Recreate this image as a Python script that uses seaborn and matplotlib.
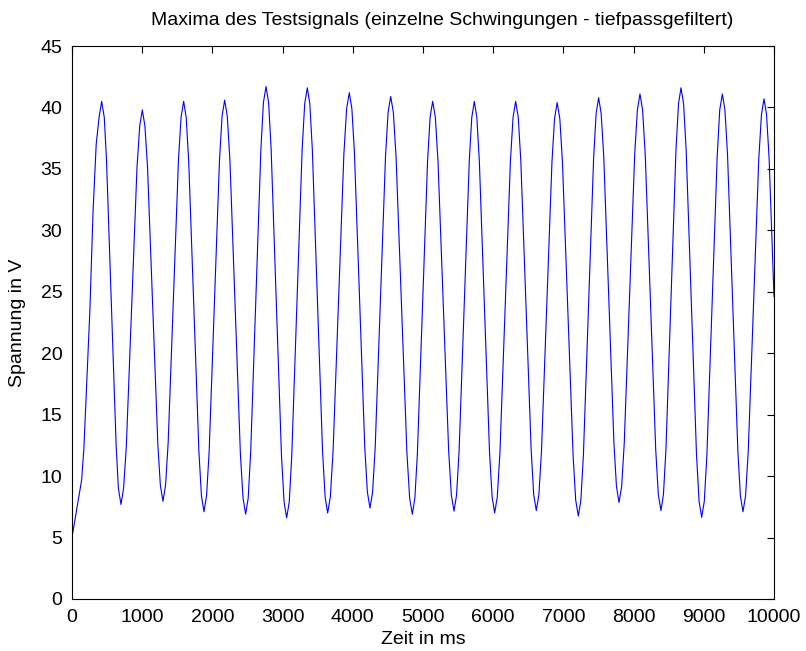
import matplotlib
matplotlib.use('Agg')
import matplotlib.pyplot as plt
import seaborn as sns
from pandas import DataFrame

sns.set_style('white')
plt.rcParams['font.family'] = ['Liberation Sans', 'DejaVu Sans']
plt.rcParams['text.color'] = 'black'
plt.rcParams['axes.labelcolor'] = 'black'

# values (ms / V), one extremum or edge per line
zeit_ms = [
    0, 138, 170, 210, 255, 300, 345,
    386, 423, 460,  492, 560, 629,
    661, 698, 735,  774, 850, 926,
    965, 1002, 1039,  1076, 1149, 1223,
    1259, 1296, 1333,  1370, 1444, 1517,
    1554, 1591, 1627,  1663, 1736, 1808,
    1844, 1880, 1917,  1954, 2028, 2101,
    2138, 2175, 2212,  2250, 2325, 2399,
    2437, 2474, 2510,  2546, 2619, 2691,
    2727, 2764, 2801,  2837, 2911, 2984,
    3021, 3058, 3095,  3131, 3205, 3278,
    3315, 3352, 3388,  3424, 3497, 3569,
    3606, 3642, 3680,  3719, 3796, 3873,
    3912, 3950, 3987,  4024, 4097, 4171,
    4208, 4245, 4282,  4319, 4392, 4466,
    4503, 4540, 4578,  4617, 4694, 4771,
    4810, 4848, 4884,  4920, 4993, 5065,
    5101, 5138, 5176,  5214, 5290, 5366,
    5404, 5442, 5478,  5514, 5587, 5659,
    5695, 5731, 5767,  5803, 5876, 5948,
    5985, 6021, 6058,  6096, 6171, 6245,
    6283, 6320, 6357,  6394, 6467, 6541,
    6577, 6614, 6651,  6688, 6763, 6837,
    6874, 6911, 6949,  6987, 7062, 7138,
    7175, 7213, 7249,  7285, 7358, 7430,
    7466, 7502, 7538,  7575, 7647, 7720,
    7756, 7792, 7830,  7867, 7942, 8016,
    8054, 8091, 8128,  8166, 8241, 8315,
    8352, 8390, 8425,  8461, 8533, 8604,
    8640, 8675, 8712,  8749, 8823, 8896,
    8933, 8970, 9007,  9044, 9117, 9191,
    9227, 9264, 9301,  9338, 9411, 9485,
    9521, 9558, 9595,  9633, 9708, 9783,
    9821, 9858, 9894,  9930, 10000,
]
spannung_v = [
    5.0, 9.7, 12.3, 17.5, 23.5, 31.5, 37.0,
    39.2, 40.5, 39.2,  35.7, 24.1, 12.5,
    9.0, 7.7, 9.0,  12.4, 23.75, 35.1,
    38.5, 39.8, 38.5,  35.15, 23.9, 12.6,
    9.25, 7.95, 9.25,  12.7, 24.2, 35.75,
    39.2, 40.5, 39.2,  35.6, 23.8, 12.0,
    8.4, 7.1, 8.4,  12.0, 23.85, 35.7,
    39.3, 40.6, 39.3,  35.7, 23.75, 11.8,
    8.2, 6.9, 8.2,  12.0, 24.3, 36.6,
    40.4, 41.7, 40.4,  36.6, 24.15, 11.7,
    7.9, 6.6, 7.9,  11.7, 24.1, 36.5,
    40.3, 41.6, 40.3,  36.55, 24.3, 12.05,
    8.3, 7.0, 8.3,  12.0, 24.1, 36.2,
    39.9, 41.2, 39.9,  36.25, 24.3, 12.3,
    8.7, 7.4, 8.7,  12.3, 24.15, 36.0,
    39.6, 40.9, 39.6,  35.9, 23.9, 11.9,
    8.2, 6.9, 8.2,  11.8, 23.7, 35.6,
    39.2, 40.5, 39.2,  35.6, 23.8, 12.0,
    8.45, 7.15, 8.45,  12.0, 23.8, 35.6,
    39.2, 40.5, 39.2,  35.6, 23.75, 11.9,
    8.3, 7.0, 8.3,  11.9, 23.75, 35.6,
    39.2, 40.5, 39.2,  35.6, 23.85, 12.1,
    8.5, 7.2, 8.5,  12.05, 23.8, 35.55,
    39.1, 40.4, 39.1,  35.5, 23.6, 11.7,
    8.05, 6.75, 8.05,  11.7, 23.8, 35.8,
    39.5, 40.8, 39.5,  36.0, 24.3, 12.65,
    9.15, 7.85, 9.15,  12.7, 24.5, 36.25,
    39.8, 41.1, 39.8,  36.15, 24.15, 12.15,
    8.5, 7.2, 8.5,  12.2, 24.4, 36.6,
    40.3, 41.6, 40.3,  36.5, 24.1, 11.75,
    7.95, 6.65, 7.95,  11.7, 23.9, 36.05,
    39.8, 41.1, 39.8,  36.15, 24.1, 12.05,
    8.4, 7.1, 8.4,  12.0, 23.9, 35.8,
    39.4, 40.7, 39.4,  35.9, 24.6,
]

x_ticks = list(range(0, 10001, 1000))
y_ticks = list(range(0, 46, 5))

df = DataFrame({'zeit': zeit_ms, 'spannung': spannung_v})

fig = plt.figure(figsize=(8.06, 6.51), dpi=100)
ax = fig.add_axes([0.0893, 0.0799, 0.8710, 0.8494])
sns.lineplot(data=df, x='zeit', y='spannung', ax=ax, color='#0000ff',
             linewidth=0.8, estimator=None, sort=False)

ax.set_xlim(0, 10000)
ax.set_ylim(0, 45)
ax.set_xticks(x_ticks)
ax.set_yticks(y_ticks)
ax.tick_params(direction='in', top=True, right=True, length=5, width=0.8,
               labelsize=14, colors='black', pad=7)
for s in ax.spines.values():
    s.set_color('black')
    s.set_linewidth(0.8)

ax.set_xlabel('Zeit in ms', fontsize=14, labelpad=4, color='black')
ax.set_ylabel('Spannung in V', fontsize=14, labelpad=10, color='black')
ax.set_title('Maxima des Testsignals (einzelne Schwingungen - tiefpassgefiltert)',
             fontsize=14, pad=15, x=0.528, color='black')

fig.savefig('out.png', dpi=100)
plt.close()
